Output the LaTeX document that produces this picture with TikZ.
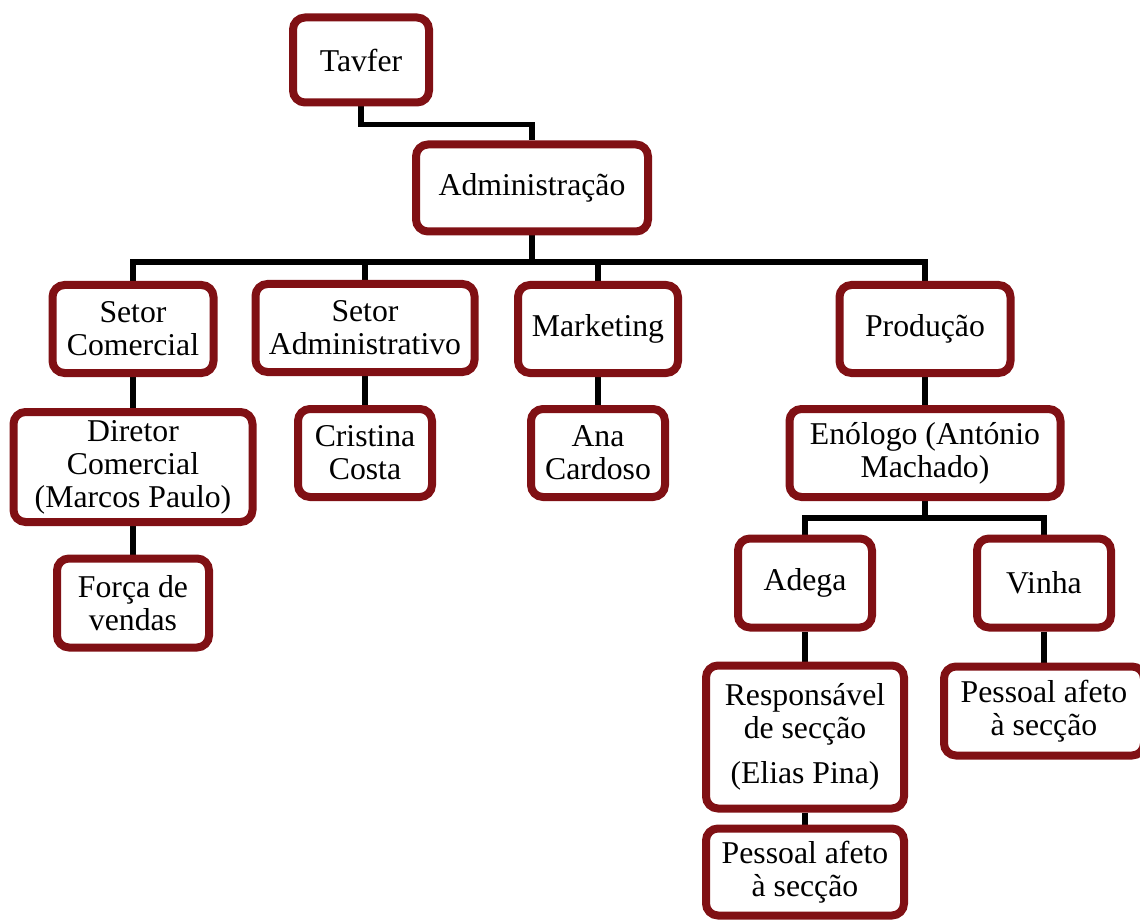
\documentclass[tikz,border=0pt]{standalone}
\usepackage{fontspec}
\setmainfont{Liberation Serif}
\usetikzlibrary{shadows,backgrounds}
\definecolor{boxred}{RGB}{128,16,20}
\begin{document}
\begin{tikzpicture}[x=0.75pt,y=-0.75pt,
  orgbox/.style 2 args={draw=boxred, line width=6pt, fill=white, rounded corners=9pt,
    align=center, inner sep=0pt,
    minimum width={(#1-8)*0.75pt}, minimum height={(#2-8)*0.75pt},
    font=\fontsize{23.8}{24.8}\selectfont,
    drop shadow={shadow xshift=1.5pt, shadow yshift=-2.2pt, opacity=0.22, fill=black}},
  link/.style={line width=4pt, draw=black, line join=miter}]
\useasboundingbox (0,0) rectangle (1140,920);

\node[orgbox={144}{93}] (tav) at (361,60) {Tavfer};
\node[orgbox={240}{95}] (adm) at (532,188) {Administração};

\node[orgbox={169}{96}] (sc) at (133,329) {Setor\\Comercial};
\node[orgbox={227}{96}] (sa) at (365,328) {Setor\\Administrativo};
\node[orgbox={168}{96}] (mk) at (598,329) {Marketing};
\node[orgbox={179}{96}] (prod) at (925,329) {Produção};

\node[orgbox={247}{118}] (dir) at (133,467) {Diretor\\Comercial\\(Marcos Paulo)};
\node[orgbox={142}{96}] (cc) at (365,453) {Cristina\\Costa};
\node[orgbox={142}{96}] (ana) at (598,453) {Ana\\Cardoso};
\node[orgbox={279}{96}] (eno) at (925,453) {Enólogo (António\\Machado)};

\node[orgbox={160}{97}] (fv) at (133,603) {Força de\\vendas};
\node[orgbox={142}{97}] (adg) at (805,583) {Adega};
\node[orgbox={142}{97}] (vin) at (1044,583) {Vinha};

\node[orgbox={206}{151}] (resp) at (805,737) {Responsável\\de secção\\[9pt](Elias Pina)};
\node[orgbox={208}{97}] (pv) at (1044,711) {Pessoal afeto\\à secção};
\node[orgbox={206}{95}] (pa) at (805,872) {Pessoal afeto\\à secção};

\coordinate (bus1) at (532,262);
\coordinate (bus2) at (925,518);

\begin{scope}[on background layer]
  \draw[link] (tav.south) -- ++(0,18) -| (adm.north);
  \draw[link] (adm.south) -- (bus1);
  \draw[link] (sc.north) |- (bus1) -| (prod.north);
  \draw[link] (sa.north) -- (sa.north |- bus1);
  \draw[link] (mk.north) -- (mk.north |- bus1);
  \draw[link] (sc.south) -- (dir.north);
  \draw[link] (sa.south) -- (cc.north);
  \draw[link] (mk.south) -- (ana.north);
  \draw[link] (prod.south) -- (eno.north);
  \draw[link] (dir.south) -- (fv.north);
  \draw[link] (eno.south) -- (bus2);
  \draw[link] (adg.north) |- (bus2) -| (vin.north);
  \draw[link] (adg.south) -- (resp.north);
  \draw[link] (vin.south) -- (pv.north);
  \draw[link] (resp.south) -- (pa.north);
\end{scope}
\end{tikzpicture}
\end{document}
